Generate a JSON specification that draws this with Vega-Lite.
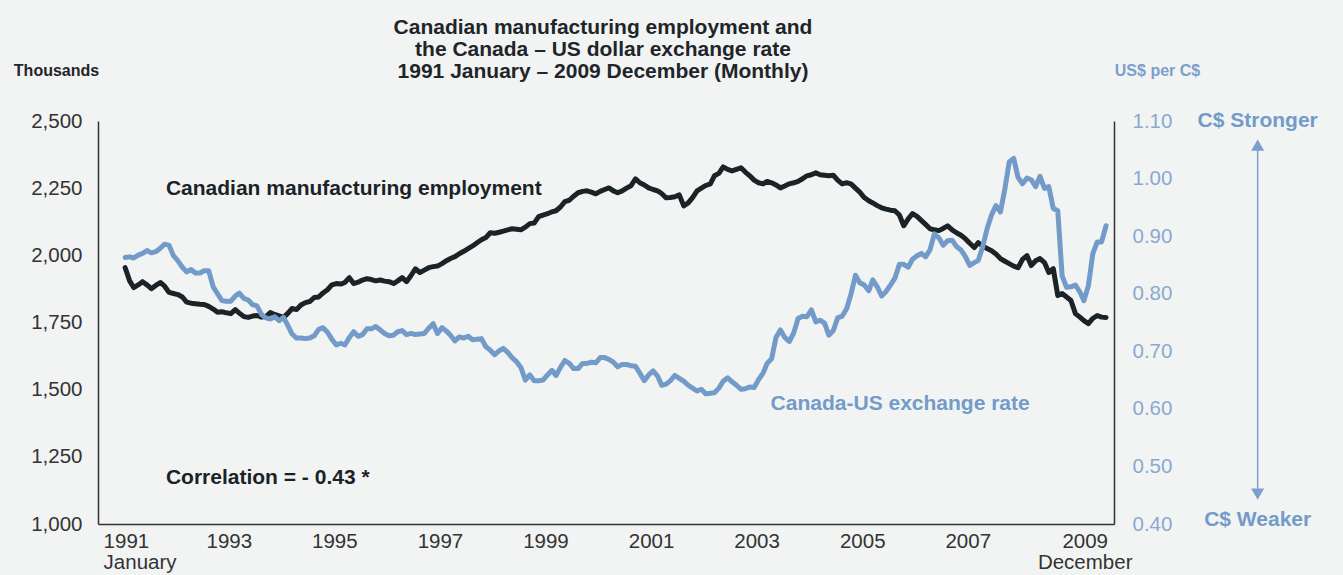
{
  "$schema": "https://vega.github.io/schema/vega-lite/v6.json",
  "autosize": {"type": "none"},
  "width": 1016,
  "height": 403,
  "padding": {"left": 98, "top": 121, "right": 229, "bottom": 51},
  "background": "#f2f4f3",
  "config": {
    "view": {"stroke": null},
    "font": "Liberation Sans",
    "axis": {"grid": false, "ticks": false, "domainColor": "#333333", "domainWidth": 1.5, "labelFont": "Liberation Sans", "labelFontSize": 20.5, "labelColor": "#333333", "titleFont": "Liberation Sans"}
  },
  "title": {
    "text": ["Canadian manufacturing employment and", "the Canada – US dollar exchange rate", "1991 January – 2009 December (Monthly)"],
    "fontSize": 21,
    "fontWeight": "bold",
    "color": "#1f2529",
    "lineHeight": 22,
    "anchor": "middle",
    "frame": "group",
    "dx": -3,
    "offset": -20
  },
  "datasets": {
    "series": [
      {"d":"1991-01-01","emp":1954,"fx":0.863},{"d":"1991-02-01","emp":1905,"fx":0.864},{"d":"1991-03-01","emp":1880,"fx":0.862},{"d":"1991-04-01","emp":1890,"fx":0.867},{"d":"1991-05-01","emp":1902,"fx":0.870},{"d":"1991-06-01","emp":1890,"fx":0.875},{"d":"1991-07-01","emp":1876,"fx":0.871},{"d":"1991-08-01","emp":1888,"fx":0.873},{"d":"1991-09-01","emp":1899,"fx":0.879},{"d":"1991-10-01","emp":1885,"fx":0.886},{"d":"1991-11-01","emp":1862,"fx":0.884},{"d":"1991-12-01","emp":1858,"fx":0.866},
      {"d":"1992-01-01","emp":1854,"fx":0.857},{"d":"1992-02-01","emp":1845,"fx":0.846},{"d":"1992-03-01","emp":1826,"fx":0.838},{"d":"1992-04-01","emp":1822,"fx":0.842},{"d":"1992-05-01","emp":1820,"fx":0.836},{"d":"1992-06-01","emp":1818,"fx":0.836},{"d":"1992-07-01","emp":1817,"fx":0.840},{"d":"1992-08-01","emp":1810,"fx":0.840},{"d":"1992-09-01","emp":1800,"fx":0.812},{"d":"1992-10-01","emp":1788,"fx":0.800},{"d":"1992-11-01","emp":1790,"fx":0.788},{"d":"1992-12-01","emp":1786,"fx":0.787},
      {"d":"1993-01-01","emp":1783,"fx":0.787},{"d":"1993-02-01","emp":1798,"fx":0.796},{"d":"1993-03-01","emp":1785,"fx":0.801},{"d":"1993-04-01","emp":1772,"fx":0.792},{"d":"1993-05-01","emp":1769,"fx":0.789},{"d":"1993-06-01","emp":1774,"fx":0.781},{"d":"1993-07-01","emp":1776,"fx":0.779},{"d":"1993-08-01","emp":1770,"fx":0.764},{"d":"1993-09-01","emp":1772,"fx":0.758},{"d":"1993-10-01","emp":1787,"fx":0.756},{"d":"1993-11-01","emp":1780,"fx":0.760},{"d":"1993-12-01","emp":1775,"fx":0.753},
      {"d":"1994-01-01","emp":1769,"fx":0.759},{"d":"1994-02-01","emp":1785,"fx":0.744},{"d":"1994-03-01","emp":1802,"fx":0.730},{"d":"1994-04-01","emp":1798,"fx":0.723},{"d":"1994-05-01","emp":1815,"fx":0.723},{"d":"1994-06-01","emp":1824,"fx":0.722},{"d":"1994-07-01","emp":1828,"fx":0.723},{"d":"1994-08-01","emp":1843,"fx":0.727},{"d":"1994-09-01","emp":1845,"fx":0.738},{"d":"1994-10-01","emp":1860,"fx":0.741},{"d":"1994-11-01","emp":1872,"fx":0.733},{"d":"1994-12-01","emp":1890,"fx":0.721},
      {"d":"1995-01-01","emp":1895,"fx":0.711},{"d":"1995-02-01","emp":1893,"fx":0.714},{"d":"1995-03-01","emp":1899,"fx":0.711},{"d":"1995-04-01","emp":1917,"fx":0.724},{"d":"1995-05-01","emp":1895,"fx":0.734},{"d":"1995-06-01","emp":1900,"fx":0.726},{"d":"1995-07-01","emp":1908,"fx":0.729},{"d":"1995-08-01","emp":1913,"fx":0.739},{"d":"1995-09-01","emp":1910,"fx":0.739},{"d":"1995-10-01","emp":1905,"fx":0.743},{"d":"1995-11-01","emp":1908,"fx":0.737},{"d":"1995-12-01","emp":1904,"fx":0.731},
      {"d":"1996-01-01","emp":1902,"fx":0.727},{"d":"1996-02-01","emp":1895,"fx":0.728},{"d":"1996-03-01","emp":1905,"fx":0.734},{"d":"1996-04-01","emp":1917,"fx":0.736},{"d":"1996-05-01","emp":1902,"fx":0.729},{"d":"1996-06-01","emp":1925,"fx":0.731},{"d":"1996-07-01","emp":1950,"fx":0.729},{"d":"1996-08-01","emp":1936,"fx":0.730},{"d":"1996-09-01","emp":1945,"fx":0.731},{"d":"1996-10-01","emp":1954,"fx":0.740},{"d":"1996-11-01","emp":1958,"fx":0.748},{"d":"1996-12-01","emp":1960,"fx":0.731},
      {"d":"1997-01-01","emp":1969,"fx":0.741},{"d":"1997-02-01","emp":1980,"fx":0.735},{"d":"1997-03-01","emp":1988,"fx":0.728},{"d":"1997-04-01","emp":1995,"fx":0.718},{"d":"1997-05-01","emp":2006,"fx":0.725},{"d":"1997-06-01","emp":2015,"fx":0.723},{"d":"1997-07-01","emp":2025,"fx":0.726},{"d":"1997-08-01","emp":2035,"fx":0.720},{"d":"1997-09-01","emp":2047,"fx":0.721},{"d":"1997-10-01","emp":2058,"fx":0.722},{"d":"1997-11-01","emp":2066,"fx":0.708},{"d":"1997-12-01","emp":2084,"fx":0.702},
      {"d":"1998-01-01","emp":2082,"fx":0.694},{"d":"1998-02-01","emp":2086,"fx":0.701},{"d":"1998-03-01","emp":2090,"fx":0.705},{"d":"1998-04-01","emp":2095,"fx":0.698},{"d":"1998-05-01","emp":2099,"fx":0.689},{"d":"1998-06-01","emp":2097,"fx":0.682},{"d":"1998-07-01","emp":2095,"fx":0.672},{"d":"1998-08-01","emp":2105,"fx":0.650},{"d":"1998-09-01","emp":2118,"fx":0.659},{"d":"1998-10-01","emp":2120,"fx":0.649},{"d":"1998-11-01","emp":2144,"fx":0.649},{"d":"1998-12-01","emp":2150,"fx":0.650},
      {"d":"1999-01-01","emp":2155,"fx":0.659},{"d":"1999-02-01","emp":2162,"fx":0.667},{"d":"1999-03-01","emp":2166,"fx":0.658},{"d":"1999-04-01","emp":2180,"fx":0.672},{"d":"1999-05-01","emp":2200,"fx":0.684},{"d":"1999-06-01","emp":2205,"fx":0.679},{"d":"1999-07-01","emp":2220,"fx":0.670},{"d":"1999-08-01","emp":2233,"fx":0.670},{"d":"1999-09-01","emp":2238,"fx":0.679},{"d":"1999-10-01","emp":2240,"fx":0.679},{"d":"1999-11-01","emp":2235,"fx":0.681},{"d":"1999-12-01","emp":2229,"fx":0.680},
      {"d":"2000-01-01","emp":2238,"fx":0.689},{"d":"2000-02-01","emp":2245,"fx":0.689},{"d":"2000-03-01","emp":2251,"fx":0.686},{"d":"2000-04-01","emp":2240,"fx":0.681},{"d":"2000-05-01","emp":2233,"fx":0.673},{"d":"2000-06-01","emp":2240,"fx":0.677},{"d":"2000-07-01","emp":2250,"fx":0.677},{"d":"2000-08-01","emp":2259,"fx":0.675},{"d":"2000-09-01","emp":2285,"fx":0.674},{"d":"2000-10-01","emp":2270,"fx":0.662},{"d":"2000-11-01","emp":2262,"fx":0.649},{"d":"2000-12-01","emp":2251,"fx":0.659},
      {"d":"2001-01-01","emp":2245,"fx":0.666},{"d":"2001-02-01","emp":2240,"fx":0.657},{"d":"2001-03-01","emp":2230,"fx":0.641},{"d":"2001-04-01","emp":2214,"fx":0.643},{"d":"2001-05-01","emp":2215,"fx":0.649},{"d":"2001-06-01","emp":2218,"fx":0.658},{"d":"2001-07-01","emp":2225,"fx":0.653},{"d":"2001-08-01","emp":2184,"fx":0.648},{"d":"2001-09-01","emp":2195,"fx":0.641},{"d":"2001-10-01","emp":2215,"fx":0.636},{"d":"2001-11-01","emp":2240,"fx":0.631},{"d":"2001-12-01","emp":2250,"fx":0.634},
      {"d":"2002-01-01","emp":2260,"fx":0.626},{"d":"2002-02-01","emp":2266,"fx":0.627},{"d":"2002-03-01","emp":2296,"fx":0.628},{"d":"2002-04-01","emp":2305,"fx":0.636},{"d":"2002-05-01","emp":2329,"fx":0.648},{"d":"2002-06-01","emp":2320,"fx":0.654},{"d":"2002-07-01","emp":2314,"fx":0.647},{"d":"2002-08-01","emp":2320,"fx":0.641},{"d":"2002-09-01","emp":2326,"fx":0.634},{"d":"2002-10-01","emp":2310,"fx":0.635},{"d":"2002-11-01","emp":2296,"fx":0.638},{"d":"2002-12-01","emp":2280,"fx":0.637},
      {"d":"2003-01-01","emp":2270,"fx":0.651},{"d":"2003-02-01","emp":2266,"fx":0.662},{"d":"2003-03-01","emp":2275,"fx":0.679},{"d":"2003-04-01","emp":2270,"fx":0.687},{"d":"2003-05-01","emp":2262,"fx":0.724},{"d":"2003-06-01","emp":2251,"fx":0.737},{"d":"2003-07-01","emp":2258,"fx":0.724},{"d":"2003-08-01","emp":2266,"fx":0.717},{"d":"2003-09-01","emp":2270,"fx":0.732},{"d":"2003-10-01","emp":2275,"fx":0.757},{"d":"2003-11-01","emp":2285,"fx":0.761},{"d":"2003-12-01","emp":2296,"fx":0.760},
      {"d":"2004-01-01","emp":2300,"fx":0.772},{"d":"2004-02-01","emp":2307,"fx":0.751},{"d":"2004-03-01","emp":2300,"fx":0.754},{"d":"2004-04-01","emp":2298,"fx":0.749},{"d":"2004-05-01","emp":2296,"fx":0.728},{"d":"2004-06-01","emp":2298,"fx":0.736},{"d":"2004-07-01","emp":2280,"fx":0.758},{"d":"2004-08-01","emp":2266,"fx":0.761},{"d":"2004-09-01","emp":2270,"fx":0.774},{"d":"2004-10-01","emp":2266,"fx":0.799},{"d":"2004-11-01","emp":2250,"fx":0.832},{"d":"2004-12-01","emp":2235,"fx":0.819},
      {"d":"2005-01-01","emp":2215,"fx":0.815},{"d":"2005-02-01","emp":2203,"fx":0.805},{"d":"2005-03-01","emp":2195,"fx":0.824},{"d":"2005-04-01","emp":2185,"fx":0.812},{"d":"2005-05-01","emp":2177,"fx":0.796},{"d":"2005-06-01","emp":2172,"fx":0.804},{"d":"2005-07-01","emp":2168,"fx":0.815},{"d":"2005-08-01","emp":2166,"fx":0.827},{"d":"2005-09-01","emp":2150,"fx":0.851},{"d":"2005-10-01","emp":2110,"fx":0.851},{"d":"2005-11-01","emp":2136,"fx":0.846},{"d":"2005-12-01","emp":2155,"fx":0.860},
      {"d":"2006-01-01","emp":2145,"fx":0.866},{"d":"2006-02-01","emp":2129,"fx":0.870},{"d":"2006-03-01","emp":2115,"fx":0.864},{"d":"2006-04-01","emp":2099,"fx":0.876},{"d":"2006-05-01","emp":2095,"fx":0.904},{"d":"2006-06-01","emp":2092,"fx":0.897},{"d":"2006-07-01","emp":2100,"fx":0.884},{"d":"2006-08-01","emp":2110,"fx":0.892},{"d":"2006-09-01","emp":2095,"fx":0.893},{"d":"2006-10-01","emp":2084,"fx":0.882},{"d":"2006-11-01","emp":2075,"fx":0.876},{"d":"2006-12-01","emp":2062,"fx":0.865},
      {"d":"2007-01-01","emp":2045,"fx":0.849},{"d":"2007-02-01","emp":2029,"fx":0.854},{"d":"2007-03-01","emp":2047,"fx":0.858},{"d":"2007-04-01","emp":2035,"fx":0.882},{"d":"2007-05-01","emp":2025,"fx":0.913},{"d":"2007-06-01","emp":2017,"fx":0.937},{"d":"2007-07-01","emp":2005,"fx":0.953},{"d":"2007-08-01","emp":1988,"fx":0.942},{"d":"2007-09-01","emp":1978,"fx":0.982},{"d":"2007-10-01","emp":1969,"fx":1.029},{"d":"2007-11-01","emp":1960,"fx":1.035},{"d":"2007-12-01","emp":1954,"fx":1.002},
      {"d":"2008-01-01","emp":1985,"fx":0.991},{"d":"2008-02-01","emp":1999,"fx":1.001},{"d":"2008-03-01","emp":1962,"fx":0.998},{"d":"2008-04-01","emp":1980,"fx":0.986},{"d":"2008-05-01","emp":1988,"fx":1.004},{"d":"2008-06-01","emp":1973,"fx":0.983},{"d":"2008-07-01","emp":1936,"fx":0.986},{"d":"2008-08-01","emp":1950,"fx":0.948},{"d":"2008-09-01","emp":1850,"fx":0.944},{"d":"2008-10-01","emp":1858,"fx":0.831},{"d":"2008-11-01","emp":1845,"fx":0.811},{"d":"2008-12-01","emp":1832,"fx":0.812},
      {"d":"2009-01-01","emp":1783,"fx":0.815},{"d":"2009-02-01","emp":1770,"fx":0.803},{"d":"2009-03-01","emp":1757,"fx":0.788},{"d":"2009-04-01","emp":1746,"fx":0.814},{"d":"2009-05-01","emp":1765,"fx":0.869},{"d":"2009-06-01","emp":1776,"fx":0.890},{"d":"2009-07-01","emp":1770,"fx":0.890},{"d":"2009-08-01","emp":1769,"fx":0.918}
    ],
    "empNotes": [
      {"d":"1991-10-10","v":2247,"t":"Canadian manufacturing employment"},
      {"d":"1991-10-10","v":1171,"t":"Correlation = - 0.43 *"}
    ],
    "fxNote": [
      {"d":"2003-03-25","r":0.608,"t":"Canada-US exchange rate"}
    ],
    "sideNotes": [
      {"d":"2012-06-15","r":1.1,"t":"C$ Stronger"},
      {"d":"2012-06-15","r":0.407,"t":"C$ Weaker"}
    ],
    "arrow": [
      {"d":"2012-06-15","top":1.0497,"bot":0.4608}
    ],
    "heads": [
      {"d":"2012-06-15","r":1.058,"dir":"up"},
      {"d":"2012-06-15","r":0.452,"dir":"down"}
    ]
  },
  "layer": [
    {
      "layer": [
        {
          "data": {"name": "series"},
          "mark": {"type": "line", "color": "#1b2327", "strokeWidth": 5, "strokeJoin": "round", "strokeCap": "round"},
          "encoding": {
            "x": {"field": "d", "type": "temporal", "scale": {"type": "utc", "domain": [{"year": 1990, "month": 6, "date": 27, "utc": true}, {"year": 2009, "month": 9, "date": 25, "utc": true}], "nice": false},
              "axis": {"title": null, "orient": "bottom", "labelPadding": 7, "labelBaseline": "top", "labelLineHeight": 21, "labelOffset": -2,
                "labelAlign": {"condition": {"test": "utcFormat(datum.value, '%Y') == '1990'", "value": "left"}, "value": "center"},
                "values": [{"year":1990,"month":8,"date":15,"utc":true},{"year":1993,"month":1,"date":1,"utc":true},{"year":1995,"month":1,"date":1,"utc":true},{"year":1997,"month":1,"date":1,"utc":true},{"year":1999,"month":1,"date":1,"utc":true},{"year":2001,"month":1,"date":1,"utc":true},{"year":2003,"month":1,"date":1,"utc":true},{"year":2005,"month":1,"date":1,"utc":true},{"year":2007,"month":1,"date":1,"utc":true},{"year":2009,"month":3,"date":20,"utc":true}],
                "labelExpr": "utcFormat(datum.value, '%Y') == '1990' ? ['1991', 'January'] : utcFormat(datum.value, '%Y') == '2009' ? ['2009', 'December'] : utcFormat(datum.value, '%Y')"}},
            "y": {"field": "emp", "type": "quantitative", "scale": {"domain": [1000, 2500], "nice": false, "zero": false},
              "axis": {"orient": "left", "values": [1000, 1250, 1500, 1750, 2000, 2250, 2500], "format": ",.0f", "labelPadding": 16,
                "title": "Thousands", "titleAngle": 0, "titleAlign": "center", "titleBaseline": "middle", "titleX": -42, "titleY": -51, "titleFontSize": 16, "titleFontWeight": "bold", "titleColor": "#1f2529"}}
          }
        },
        {
          "data": {"name": "empNotes"},
          "mark": {"type": "text", "align": "left", "baseline": "middle", "fontSize": 21, "fontWeight": "bold", "color": "#1b2327"},
          "encoding": {
            "x": {"field": "d", "type": "temporal"},
            "y": {"field": "v", "type": "quantitative"},
            "text": {"field": "t"}
          }
        }
      ]
    },
    {
      "layer": [
        {
          "data": {"name": "series"},
          "mark": {"type": "line", "color": "#729bc9", "strokeWidth": 5, "strokeJoin": "round", "strokeCap": "round"},
          "encoding": {
            "x": {"field": "d", "type": "temporal"},
            "y": {"field": "fx", "type": "quantitative", "scale": {"domain": [0.4, 1.1], "nice": false, "zero": false},
              "axis": {"orient": "right", "values": [0.4, 0.5, 0.6, 0.7, 0.8, 0.9, 1.0, 1.1], "format": ".2f", "labelPadding": 18, "labelColor": "#8aa9d0",
                "title": "US$ per C$", "titleAngle": 0, "titleAlign": "center", "titleBaseline": "middle", "titleX": 43, "titleY": -51, "titleFontSize": 16, "titleFontWeight": "bold", "titleColor": "#7d9fcb"}}
          }
        },
        {
          "data": {"name": "fxNote"},
          "mark": {"type": "text", "align": "left", "baseline": "middle", "fontSize": 21, "fontWeight": "bold", "color": "#729bc9"},
          "encoding": {
            "x": {"field": "d", "type": "temporal"},
            "y": {"field": "r", "type": "quantitative"},
            "text": {"field": "t"}
          }
        },
        {
          "data": {"name": "sideNotes"},
          "mark": {"type": "text", "align": "center", "baseline": "middle", "fontSize": 21, "fontWeight": "bold", "color": "#729bc9"},
          "encoding": {
            "x": {"field": "d", "type": "temporal"},
            "y": {"field": "r", "type": "quantitative"},
            "text": {"field": "t"}
          }
        },
        {
          "data": {"name": "arrow"},
          "mark": {"type": "rule", "color": "#7d9fcb", "strokeWidth": 1.5},
          "encoding": {
            "x": {"field": "d", "type": "temporal"},
            "y": {"field": "top", "type": "quantitative"},
            "y2": {"field": "bot"}
          }
        },
        {
          "data": {"name": "heads"},
          "mark": {"type": "point", "filled": true, "size": 170, "color": "#7d9fcb", "opacity": 1},
          "encoding": {
            "x": {"field": "d", "type": "temporal"},
            "y": {"field": "r", "type": "quantitative"},
            "shape": {"field": "dir", "type": "nominal", "scale": {"domain": ["up", "down"], "range": ["triangle-up", "triangle-down"]}, "legend": null}
          }
        }
      ]
    }
  ],
  "resolve": {"scale": {"y": "independent"}}
}
